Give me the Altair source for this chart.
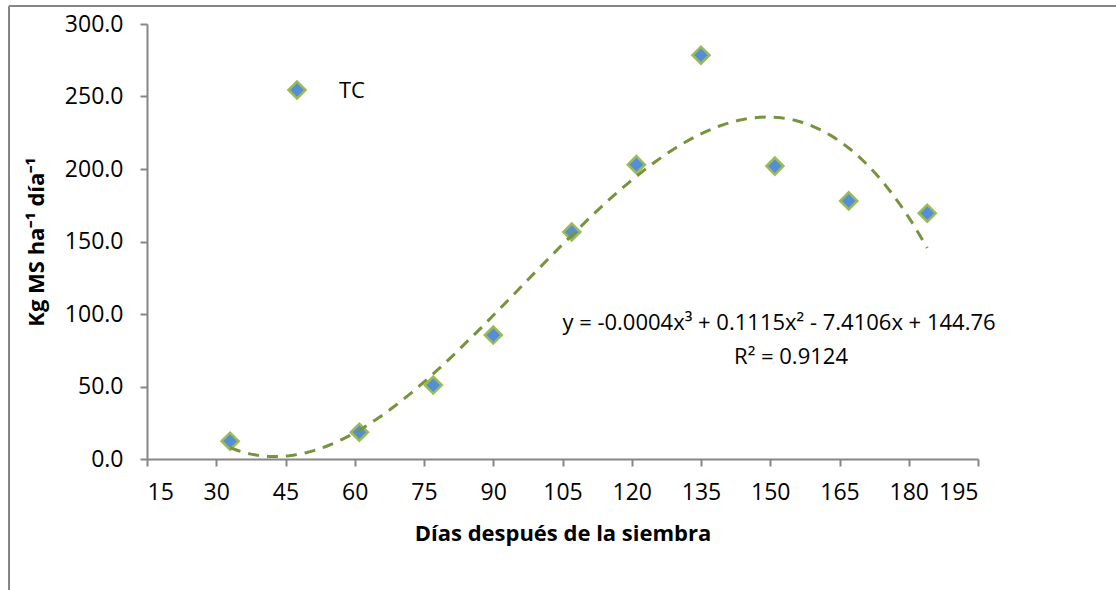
import altair as alt
import pandas as pd

# Days after sowing and daily dry-matter accumulation (kg MS/ha/day)
dias = [33, 61, 77, 90, 107, 121, 135, 151, 167, 184]
kg_ms = [12.3, 18.5, 51.0, 85.5, 156.5, 203.0, 278.5, 202.0, 178.0, 169.5]
serie = ["TC"]
x_ticks = [15, 30, 45, 60, 75, 90, 105, 120, 135, 150, 165, 180, 195]
y_ticks = [0, 50, 100, 150, 200, 250, 300]
ecuacion = ["y = -0.0004x³ + 0.1115x² - 7.4106x + 144.76", "R² = 0.9124"]

df = pd.DataFrame({"dias": dias, "kg": kg_ms})
one = pd.DataFrame({"k": [0]})

FONT = "Open Sans"
AXIS_GRAY = "#868686"
FILL = "#558ED5"
EDGE = "#9BBB59"
TREND = "#77933C"

x_enc = alt.X(
    "dias:Q",
    scale=alt.Scale(domain=[15, 195], nice=False, zero=False),
    axis=alt.Axis(
        values=x_ticks, format="d", grid=False,
        title="Días después de la siembra",
        titleFont=FONT, titleFontSize=22, titleFontWeight="bold", titleColor="#000",
        titleY=74, titleBaseline="middle",
        labelFont=FONT, labelFontSize=23, labelColor="#000", labelPadding=15,
        domainColor=AXIS_GRAY, domainWidth=2, tickColor=AXIS_GRAY, tickWidth=2, tickSize=7,
    ),
)
y_enc = alt.Y(
    "kg:Q",
    scale=alt.Scale(domain=[0, 300], nice=False),
    axis=alt.Axis(
        values=y_ticks, format=".1f", grid=False,
        title="Kg MS ha⁻¹ día⁻¹",
        titleFont=FONT, titleFontSize=22, titleFontWeight="bold", titleColor="#000",
        titleX=-111, titleY=217.5, titleAngle=-90, titleAlign="center", titleBaseline="middle",
        labelFont=FONT, labelFontSize=23, labelColor="#000", labelPadding=17,
        domainColor=AXIS_GRAY, domainWidth=2, tickColor=AXIS_GRAY, tickWidth=2, tickSize=7,
    ),
)

points = alt.Chart(df).mark_point(
    shape="diamond", filled=True, fill=FILL, stroke=EDGE, strokeWidth=2.5, size=290, opacity=1
).encode(x=x_enc, y=y_enc)

# Third-order polynomial trend fitted to the observations
trend = alt.Chart(df).transform_regression(
    "dias", "kg", method="poly", order=3
).mark_line(color=TREND, strokeWidth=3, strokeDash=[11, 8]).encode(x="dias:Q", y="kg:Q")

legend_sym = alt.Chart(one).mark_point(
    shape="diamond", filled=True, fill=FILL, stroke=EDGE, strokeWidth=2.5, size=290, opacity=1
).encode(x=alt.value(150), y=alt.value(66))
legend_txt = alt.Chart(pd.DataFrame({"t": serie})).mark_text(
    font=FONT, fontSize=22, align="left", baseline="middle", color="#000"
).encode(text="t:N", x=alt.value(192), y=alt.value(67))

eq1 = alt.Chart(pd.DataFrame({"t": [ecuacion[0]]})).mark_text(
    font=FONT, fontSize=22, align="center", baseline="middle", color="#000"
).encode(text="t:N", x=alt.value(632), y=alt.value(299))
eq2 = alt.Chart(pd.DataFrame({"t": [ecuacion[1]]})).mark_text(
    font=FONT, fontSize=22, align="center", baseline="middle", color="#000"
).encode(text="t:N", x=alt.value(644), y=alt.value(333))

# Outer chart frame (left and top edges)
frame_left = alt.Chart(one).mark_rule(color=AXIS_GRAY, strokeWidth=2).encode(
    x=alt.value(-138), y=alt.value(-18), y2=alt.value(570)
)
frame_top = alt.Chart(one).mark_rule(color=AXIS_GRAY, strokeWidth=2).encode(
    x=alt.value(-138), x2=alt.value(975), y=alt.value(-18)
)

chart = alt.layer(
    frame_left, frame_top, points, trend, legend_sym, legend_txt, eq1, eq2
).properties(
    width=831, height=435,
    padding={"left": 147, "top": 24, "right": 138, "bottom": 131},
    autosize=alt.AutoSizeParams(type="none"),
    background="white",
).configure_view(stroke=None)

chart.save("out.html", embed_options={"renderer": "svg", "actions": False})
